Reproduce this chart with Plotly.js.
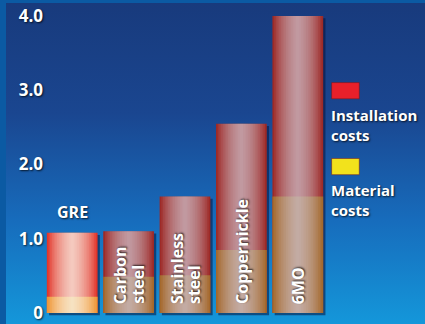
<!DOCTYPE html>
<html>
<head>
<meta charset="utf-8">
<script src="https://cdn.plot.ly/plotly-3.0.1.min.js"></script>
<style>
  html, body { margin: 0; padding: 0; }
  #chart {
    width: 425px; height: 324px;
    background: linear-gradient(to bottom, #183a7c 0%, #1a4690 35%, #176cbc 68%, #1497da 100%);
    box-shadow: inset 6px 3px 0 #0b5aa3;
  }
</style>
</head>
<body>
<div id="chart"></div>
<script>
// ---- data ----
const categories = ['GRE', 'Carbon steel', 'Stainless steel', 'Coppernickle', '6MO'];
const materialCosts = [0.22, 0.49, 0.51, 0.85, 1.57];
const installationCosts = [0.86, 0.61, 1.06, 1.70, 2.43];
const seriesNames = ['Installation<br>costs', 'Material<br>costs'];
const barLabelLines = [['GRE'], ['Carbon', 'steel'], ['Stainless', 'steel'], ['Coppernickle'], ['6MO']];
const tickValues = [0, 1, 2, 3, 4];
const tickLabels = ['0', '1.0', '2.0', '3.0', '4.0'];

// ---- styles ----
const totals = categories.map((c, i) => materialCosts[i] + installationCosts[i]);
const instColors = ['#e2352a', '#9e2a27', '#9e2a27', '#9e2a27', '#9e2a27'];
const matColors = ['#ef9636', '#a5692c', '#a5692c', '#a5692c', '#a5692c'];
const hlColors = ['rgba(255,250,245,0.095)', 'rgba(206,204,208,0.09)', 'rgba(206,204,208,0.09)', 'rgba(206,204,208,0.09)', 'rgba(206,204,208,0.09)'];
const FONT = '"Open Sans", "DejaVu Sans", sans-serif';
const SHADOW = '1px 1px 2px rgba(0,0,0,0.75)';
const BW = 0.9;

const traces = [];
// drop shadow
traces.push({
  type: 'bar', x: categories, y: totals, base: -0.03, width: BW, offset: -BW / 2 + 0.04,
  marker: { color: 'rgba(8,20,60,0.55)', line: { width: 0 } }, hoverinfo: 'skip', showlegend: false
});
// installation (full total height; overlaid by material)
traces.push({
  type: 'bar', name: 'Installation costs', x: categories, y: totals, width: BW,
  marker: { color: instColors, line: { width: 0 } }, hoverinfo: 'skip', showlegend: false
});
traces.push({
  type: 'bar', name: 'Material costs', x: categories, y: materialCosts, width: BW,
  marker: { color: matColors, line: { width: 0 } }, hoverinfo: 'skip', showlegend: false
});
// cylinder highlight layers
for (let w = 0.84; w > 0.03; w -= 0.06) {
  traces.push({
    type: 'bar', x: categories, y: totals, width: w,
    marker: { color: hlColors, line: { width: 0 } }, hoverinfo: 'skip', showlegend: false
  });
}

const annotations = [];
barLabelLines.forEach((lines, i) => {
  if (i === 0) {
    annotations.push({
      x: categories[i], y: totals[i], xref: 'x', yref: 'y', showarrow: false,
      text: lines[0], yanchor: 'bottom', yshift: 8,
      font: { family: FONT, size: 16, color: '#ffffff', weight: 700, shadow: SHADOW }
    });
  } else {
    const n = lines.length;
    lines.forEach((t, j) => {
      annotations.push({
        x: categories[i], y: 0, xref: 'x', yref: 'y', showarrow: false,
        text: t, textangle: -90, yanchor: 'bottom', xanchor: 'center',
        yshift: 7, xshift: (j - (n - 1) / 2) * 17,
        font: { family: FONT, size: 16, color: '#ffffff', weight: 700, shadow: SHADOW }
      });
    });
  }
});

// legend (swatch above text)
const legendY = [0.636, 0.386];
const swatchY = [[0.724, 0.778], [0.471, 0.525]];
const swatchColors = ['#e8202a', '#f2e21c'];
const shapes = [];
seriesNames.forEach((t, k) => {
  shapes.push({
    type: 'rect', xref: 'paper', yref: 'paper', x0: 1.02, x1: 1.118,
    y0: swatchY[k][0], y1: swatchY[k][1],
    fillcolor: swatchColors[k], line: { color: 'rgba(120,20,20,0.5)', width: 1 }
  });
  annotations.push({
    x: 1.012, y: legendY[k], xref: 'paper', yref: 'paper', showarrow: false,
    text: t, xanchor: 'left', yanchor: 'middle', align: 'left',
    font: { family: FONT, size: 15, color: '#ffffff', weight: 700, shadow: SHADOW }
  });
});

const layout = {
  width: 425, height: 324,
  margin: { l: 44, r: 99, t: 16, b: 8 },
  paper_bgcolor: 'rgba(0,0,0,0)', plot_bgcolor: 'rgba(0,0,0,0)',
  barmode: 'overlay', showlegend: false,
  xaxis: { type: 'category', showticklabels: false, showgrid: false, zeroline: false, showline: false, ticks: '', range: [-0.5, 4.5] },
  yaxis: {
    range: [-0.04, 4.0], tickvals: tickValues, ticktext: tickLabels,
    showgrid: false, zeroline: false, showline: false, ticks: '', ticklabelstandoff: 0,
    tickfont: { family: FONT, size: 17, color: '#ffffff', weight: 700, shadow: SHADOW }
  },
  annotations: annotations, shapes: shapes
};

Plotly.newPlot('chart', traces, layout, { staticPlot: true, displayModeBar: false });
</script>
</body>
</html>
